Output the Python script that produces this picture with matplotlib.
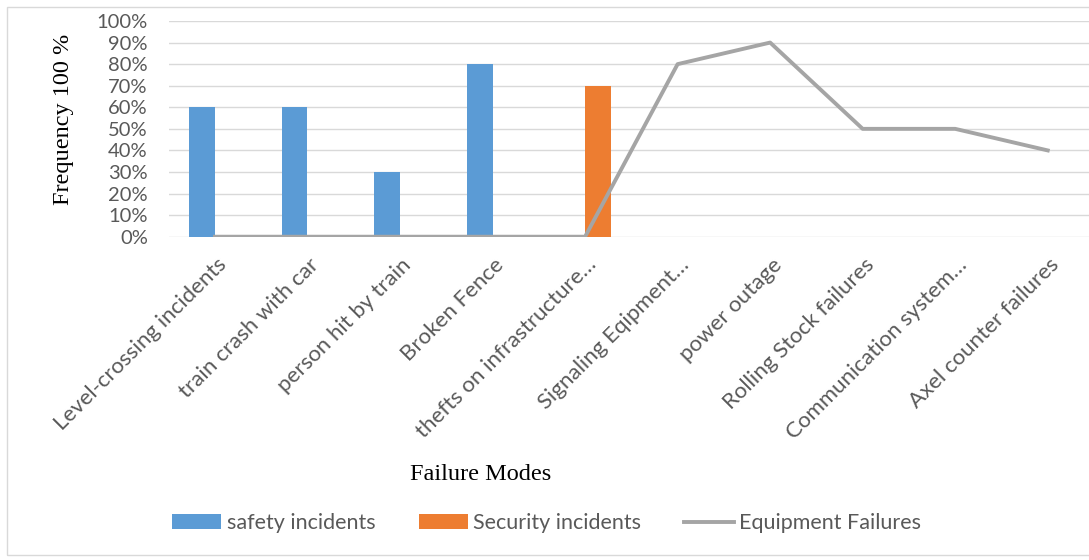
import matplotlib.pyplot as plt
from matplotlib.patches import Rectangle
from matplotlib.ticker import PercentFormatter
from matplotlib.transforms import ScaledTranslation
import numpy as np

# Categorias y valores (frecuencia en %)
categories = ["Level-crossing incidents", "train crash with car", "person hit by train",
              "Broken Fence", "thefts on infrastructure…", "Signaling Eqipment…",
              "power outage", "Rolling Stock failures", "Communication system…",
              "Axel counter failures"]
safety = [60, 60, 30, 80, 0, 0, 0, 0, 0, 0]
security = [0, 0, 0, 0, 70, 0, 0, 0, 0, 0]
equipment = [0, 0, 0, 0, 0, 80, 90, 50, 50, 40]

azul = "#5B9BD5"
naranja = "#ED7D31"
gris = "#A5A5A5"
texto = "#595959"

fig = plt.figure(figsize=(10.89, 5.60), dpi=100)
ax = fig.add_axes([0.1549, 0.5773, 0.8497, 0.3852])

x = np.arange(len(categories))
ancho = 0.28
b1 = ax.bar(x - ancho / 2, safety, ancho, color=azul, label="safety incidents", zorder=2)
b2 = ax.bar(x + ancho / 2, security, ancho, color=naranja, label="Security incidents", zorder=2)
l1, = ax.plot(x, equipment, color=gris, lw=2.8, label="Equipment Failures", zorder=3)

ax.set_xlim(-0.5, len(categories) - 0.5)
ax.set_ylim(0, 100)
ax.set_yticks(range(0, 101, 10))
ax.yaxis.set_major_formatter(PercentFormatter(decimals=0))
ax.grid(axis="y", color="#D9D9D9", lw=1, zorder=0)
for s in ax.spines.values():
    s.set_visible(False)
ax.tick_params(length=0)
ax.tick_params(axis="y", labelsize=14.5, labelcolor=texto, pad=15)
ax.set_xticks(x)
ax.set_xticklabels(categories, rotation=45, ha="right", va="center",
                   rotation_mode="anchor", fontsize=16, color=texto)
ax.tick_params(axis="x", pad=18)
desplaza = ScaledTranslation(6 / 72, 0, fig.dpi_scale_trans)
for lbl in ax.get_xticklabels():
    lbl.set_transform(lbl.get_transform() + desplaza)
for lbl in ax.get_xticklabels() + ax.get_yticklabels():
    lbl.set_family("Lato")

fig.text(0.058, 0.786, "Frequency 100 %", rotation=90, ha="center", va="center",
         family="Liberation Serif", fontsize=17.5)
fig.text(0.441, 0.152, "Failure Modes", ha="center", va="center",
         family="Liberation Serif", fontsize=17.5)

leg = fig.legend([b1, b2, l1], ["safety incidents", "Security incidents", "Equipment Failures"],
                 loc="center", bbox_to_anchor=(0.502, 0.066), ncol=3, frameon=False,
                 prop={"family": "Lato", "size": 15.5}, handlelength=2.3,
                 handletextpad=0.25, columnspacing=2.0)
for t in leg.get_texts():
    t.set_color(texto)

# Marco del grafico
fig.patches.append(Rectangle((0.0065, 0.009), 1.1, 0.979, transform=fig.transFigure,
                             fill=False, edgecolor="#D9D9D9", lw=1))

fig.savefig("out.png", dpi=100)
